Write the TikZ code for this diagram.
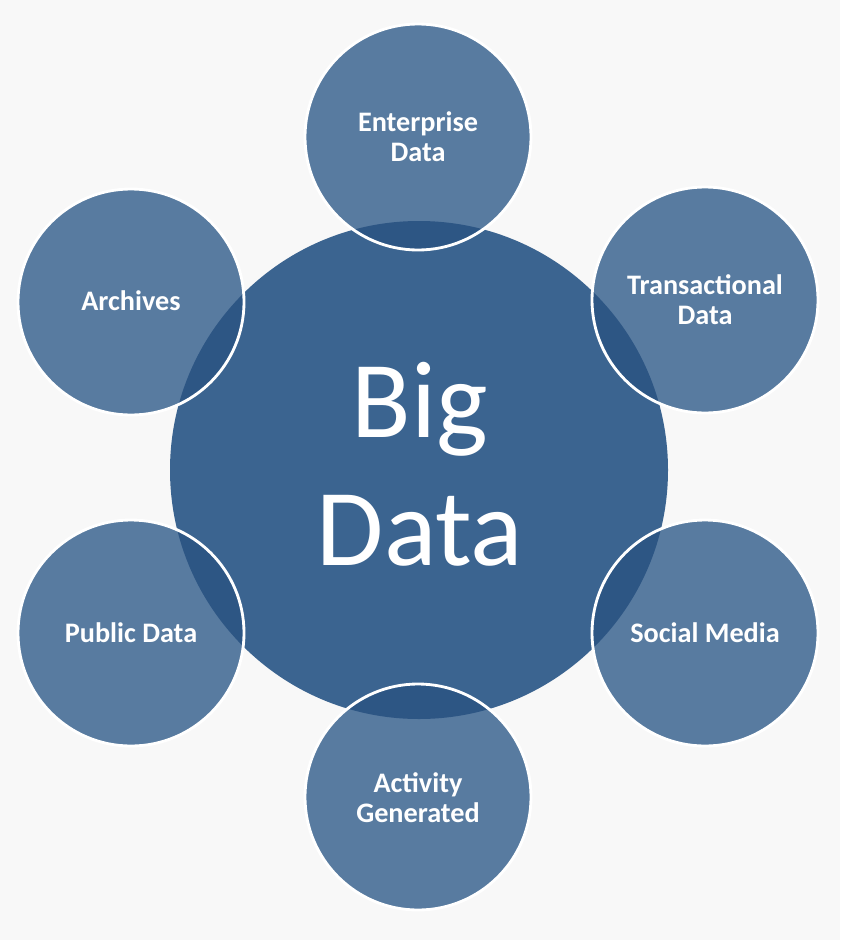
\documentclass[tikz,border=0pt]{standalone}
\usepackage{fontspec}
\setmainfont{Carlito}
\definecolor{bgc}{HTML}{F8F8F8}
\definecolor{centc}{HTML}{3B6490}
\definecolor{outc}{HTML}{587BA0}
\definecolor{overc}{HTML}{2D5684}
\tikzset{
  outer/.style={circle, fill=outc, minimum size=226*0.85pt, inner sep=0pt},
  lab/.style={text=white, font=\bfseries\fontsize{24}{25.5}\selectfont, align=center},
  biglab/.style={text=white, font=\fontsize{93}{109}\selectfont, align=center}
}
\begin{document}
\begin{tikzpicture}[x=0.85pt, y=-0.85pt]
\fill[bgc] (0,0) rectangle (840,940);
\useasboundingbox (0,0) rectangle (840,940);
% central circle
\node[circle, fill=centc, minimum size=498*0.85pt, inner sep=0pt] (bd) at (419,470) {};
% outer circles
\node[outer] (ent) at (418,137) {};
\node[outer] (arc) at (131,302) {};
\node[outer] (tra) at (705,300) {};
\node[outer] (pub) at (131,633) {};
\node[outer] (soc) at (705,633) {};
\node[outer] (act) at (418,797) {};
% overlaps
\foreach \n in {ent,arc,tra,pub,soc,act}{
  \begin{scope}
    \clip (bd.center) circle (249);
    \fill[overc] (\n.center) circle (113);
  \end{scope}
  \draw[white, line width=2.4pt] (\n.center) circle (113);
}
% labels
\node[lab] (tent) at (418,137) {Enterprise\\Data};
\node[lab] (tarc) at (131,301) {Archives};
\node[lab] (ttra) at (705,300) {Transactional\\Data};
\node[lab] (tpub) at (131,633) {Public Data};
\node[lab] (tsoc) at (705,633) {Social Media};
\node[lab] (tact) at (418,798) {Activity\\Generated};
\node[biglab] (tbd) at (420,464) {Big\\Data};
\end{tikzpicture}
\end{document}
